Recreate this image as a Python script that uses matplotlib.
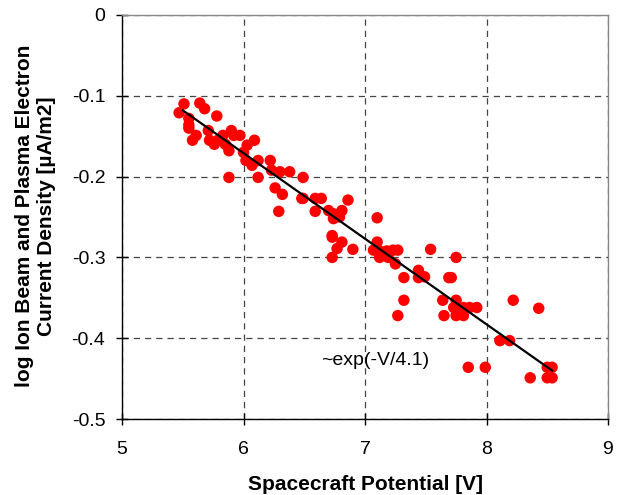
import numpy as np
import matplotlib.pyplot as plt

plt.rcParams['font.family'] = ['Liberation Sans', 'DejaVu Sans']

# measured points: spacecraft potential [V] and log current density
potential = [5.51, 5.47, 5.64, 5.68, 5.55, 5.55, 5.55, 5.78, 5.58, 5.61,
             5.71, 5.72, 5.79, 5.83, 5.90, 5.92, 5.97, 5.88, 6.03, 6.09,
             6.02, 6.07, 6.12, 5.88, 6.12, 6.22, 6.23, 6.30, 6.38, 6.26,
             6.32, 6.29, 6.49, 6.49, 6.59, 6.64, 6.59, 6.70, 6.73, 5.76,
             5.85, 6.00, 6.48, 6.74, 6.81, 6.79, 6.74, 6.86, 6.73, 6.81,
             6.77, 6.73, 6.90, 7.10, 7.10, 7.07, 7.12, 7.18, 7.23, 7.27,
             7.12, 7.19, 7.25, 7.32, 7.54, 7.44, 7.49, 7.44, 7.75, 7.69,
             7.71, 7.32, 7.27, 7.64, 7.75, 7.73, 7.81, 7.86, 7.92, 7.75,
             7.81, 7.65, 8.22, 8.43, 8.11, 8.19, 7.85, 7.99, 8.36, 8.50,
             8.54, 8.50, 8.54]
log_density = [-0.110, -0.121, -0.109, -0.116, -0.128, -0.140, -0.136, -0.125, -0.155, -0.149,
               -0.143, -0.155, -0.155, -0.149, -0.143, -0.149, -0.149, -0.168, -0.161, -0.155,
               -0.180, -0.186, -0.180, -0.201, -0.201, -0.180, -0.192, -0.194, -0.194, -0.214,
               -0.222, -0.243, -0.201, -0.227, -0.227, -0.227, -0.243, -0.242, -0.273, -0.160,
               -0.160, -0.170, -0.227, -0.246, -0.242, -0.250, -0.252, -0.229, -0.275, -0.281,
               -0.289, -0.300, -0.290, -0.251, -0.281, -0.291, -0.292, -0.292, -0.291, -0.291,
               -0.300, -0.300, -0.308, -0.325, -0.290, -0.316, -0.324, -0.325, -0.300, -0.325,
               -0.325, -0.353, -0.372, -0.353, -0.353, -0.362, -0.362, -0.362, -0.362, -0.372,
               -0.372, -0.372, -0.353, -0.363, -0.403, -0.403, -0.436, -0.436, -0.449, -0.436,
               -0.436, -0.449, -0.449]

# exponential fit, drawn as a straight line in log space
fit_x = [5.50, 8.54]
fit_y = [-0.118, -0.440]

fig = plt.figure(figsize=(6.29, 4.95), dpi=100)
ax = fig.add_axes([0.194, 0.1535, 0.7726, 0.8162])

ax.scatter(potential, log_density, s=68, color='#FF0000', edgecolors='none', zorder=3)
ax.plot(fit_x, fit_y, color='black', linewidth=1.6, zorder=4)
ax.text(7.08, -0.428, '~exp(-V/4.1)', fontsize=14, ha='center', va='center')

ax.set_xlim(5, 9)
ax.set_ylim(-0.5, 0)
ax.set_xticks([5, 6, 7, 8, 9])
ax.set_yticks([-0.5, -0.4, -0.3, -0.2, -0.1, 0])
ax.set_yticklabels(['-0.5', '-0.4', '-0.3', '-0.2', '-0.1', '0'])
ax.grid(True, color='#444444', linestyle=(0, (5, 4)), linewidth=0.9)
ax.set_axisbelow(True)

ax.spines['left'].set_color('black')
ax.spines['bottom'].set_color('black')
ax.spines['top'].set_color('#888888')
ax.spines['right'].set_color('#888888')
for s in ax.spines.values():
    s.set_linewidth(1.0)
ax.tick_params(direction='inout', length=8, width=1, labelsize=14)
ax.tick_params(axis='x', pad=12)
ax.tick_params(axis='y', pad=8)

fig.text(365 / 629, 1 - 490 / 495, 'Spacecraft Potential [V]',
         fontsize=15, fontweight='bold', ha='center', va='baseline')
fig.text(36 / 629, 1 - 216 / 495,
         'log Ion Beam and Plasma Electron\nCurrent Density [\u00b5A/m2]',
         fontsize=15, fontweight='bold', rotation=90, ha='center', va='center',
         multialignment='center')

fig.savefig('out.png', dpi=100)
